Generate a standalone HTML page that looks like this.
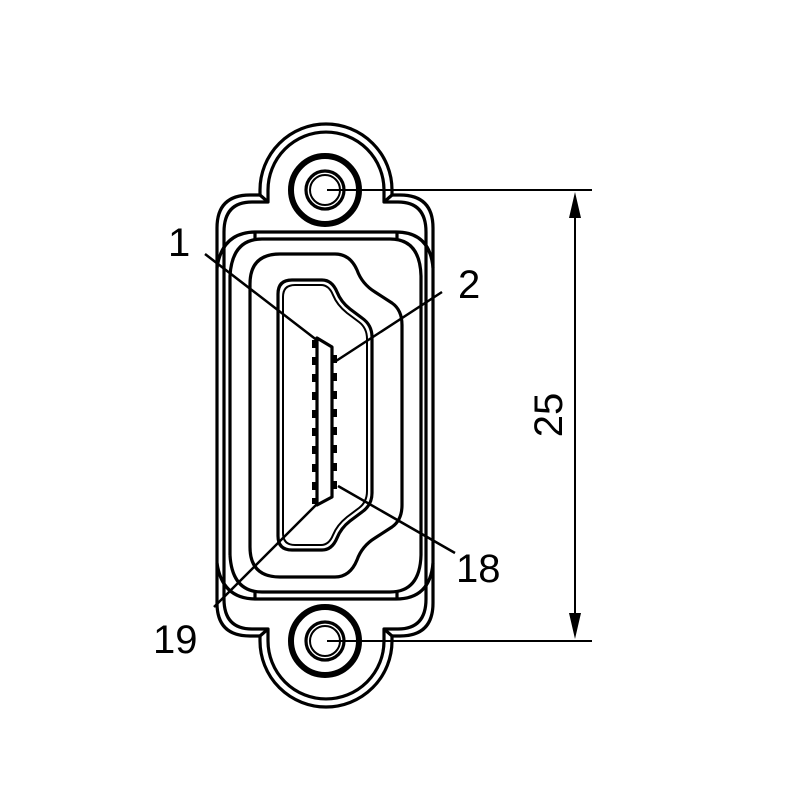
<!DOCTYPE html>
<html><head><style>html,body{margin:0;padding:0;background:#fff}svg{display:block}</style></head>
<body>
<svg width="800" height="800" viewBox="0 0 800 800" xmlns="http://www.w3.org/2000/svg" fill="none" stroke="#000" stroke-width="3.2" stroke-linejoin="round">
<!-- outer body with ears -->
<path d="M217,228 Q217,195 250,195 L260,195 L260,190 A66,66 0 0 1 392,190 L392,195 L400,195 Q433,195 433,228 L433,603 Q433,636 400,636 L392,636 L392,641 A66,66 0 0 1 260,641 L260,636 L250,636 Q217,636 217,603 Z"/>
<path d="M224,232 Q224,202 252,202 L268,202 L268,190 A58,58 0 0 1 384,190 L384,202 L398,202 Q426,202 426,232 L426,599 Q426,629 398,629 L384,629 L384,641 A58,58 0 0 1 268,641 L268,629 L252,629 Q224,629 224,599 Z"/>
<!-- corner ticks -->
<path d="M260,195 L268,202 M392,195 L384,202 M260,636 L268,629 M392,636 L384,629"/>
<!-- second frame -->
<path d="M217,268 Q222,232 256,232 L396,232 Q430,232 433,268"/>
<path d="M230,555 L230,276 Q232,239 262,239 L390,239 Q420,239 421,276 L421,555"/>
<path d="M217,563 Q222,599 256,599 L396,599 Q430,599 433,563"/>
<path d="M230,555 Q232,592 262,592 L390,592 Q420,592 421,555"/>
<path d="M255,232 L255,239 M397,232 L397,239 M255,592 L255,599 M397,592 L397,599"/>
<!-- receptacle outer -->
<path d="M280,254 L335,254 Q350,254 357,270 Q362,284 375,292 L392,303 Q402,310 402,325 L402,505 Q402,520 392,527 L375,538 Q362,546 357,560 Q350,577 335,577 L280,577 Q250,577 250,547 L250,284 Q250,254 280,254 Z"/>
<!-- opening double -->
<path d="M292,280 L322,280 Q332,280 337,292 Q341,302 350,309 L362,318 Q372,325 372,337 L372,493 Q372,505 362,512 L350,521 Q341,528 337,538 Q332,550 322,550 L292,550 Q278,550 278,536 L278,294 Q278,280 292,280 Z"/>
<path d="M295,285 L321,285 Q329,285 333,295 Q337,305 347,313 L359,322 Q367,328 367,339 L367,491 Q367,502 359,508 L347,517 Q337,525 333,535 Q329,545 321,545 L295,545 Q283,545 283,533 L283,297 Q283,285 295,285 Z" stroke-width="2"/>
<!-- tongue -->
<path d="M317,338 L332,347 L332,497 L317,505 Z"/>
<g fill="#000" stroke="none">
<rect x="312" y="340" width="5" height="8"/><rect x="312" y="357" width="5" height="8"/><rect x="312" y="374" width="5" height="8"/><rect x="312" y="392" width="5" height="8"/><rect x="312" y="410" width="5" height="8"/><rect x="312" y="428" width="5" height="8"/><rect x="312" y="446" width="5" height="8"/><rect x="312" y="464" width="5" height="8"/><rect x="312" y="482" width="5" height="8"/><rect x="312" y="498" width="5" height="6"/>
<rect x="332" y="355" width="5" height="8"/><rect x="332" y="373" width="5" height="8"/><rect x="332" y="391" width="5" height="8"/><rect x="332" y="409" width="5" height="8"/><rect x="332" y="427" width="5" height="8"/><rect x="332" y="445" width="5" height="8"/><rect x="332" y="463" width="5" height="8"/><rect x="332" y="481" width="5" height="8"/>
</g>
<!-- mounting holes -->
<circle cx="325" cy="190" r="34" stroke-width="6"/>
<circle cx="325" cy="190" r="19"/><circle cx="325" cy="190" r="15" stroke-width="2"/>
<circle cx="325" cy="641" r="34" stroke-width="6"/>
<circle cx="325" cy="641" r="19"/><circle cx="325" cy="641" r="15" stroke-width="2"/>
<!-- leaders -->
<path d="M205,254 L318,341 M442,292 L336,361 M455,553 L338,486 M214,607 L318,503" stroke-width="2.5"/>
<!-- dimension -->
<path d="M327,190 L592,190 M327,641 L592,641 M575,205 L575,626" stroke-width="2"/>
<path d="M575,192 L569,218 L581,218 Z M575,639 L569,613 L581,613 Z" fill="#000" stroke="none"/>
<g font-family="Liberation Sans, sans-serif" font-size="40" fill="#000" stroke="none">
<text x="168" y="256">1</text>
<text x="458" y="298">2</text>
<text x="456" y="582">18</text>
<text x="153" y="653">19</text>
<text transform="translate(562,415) rotate(-90)" text-anchor="middle">25</text>
</g>
</svg>
</body></html>
